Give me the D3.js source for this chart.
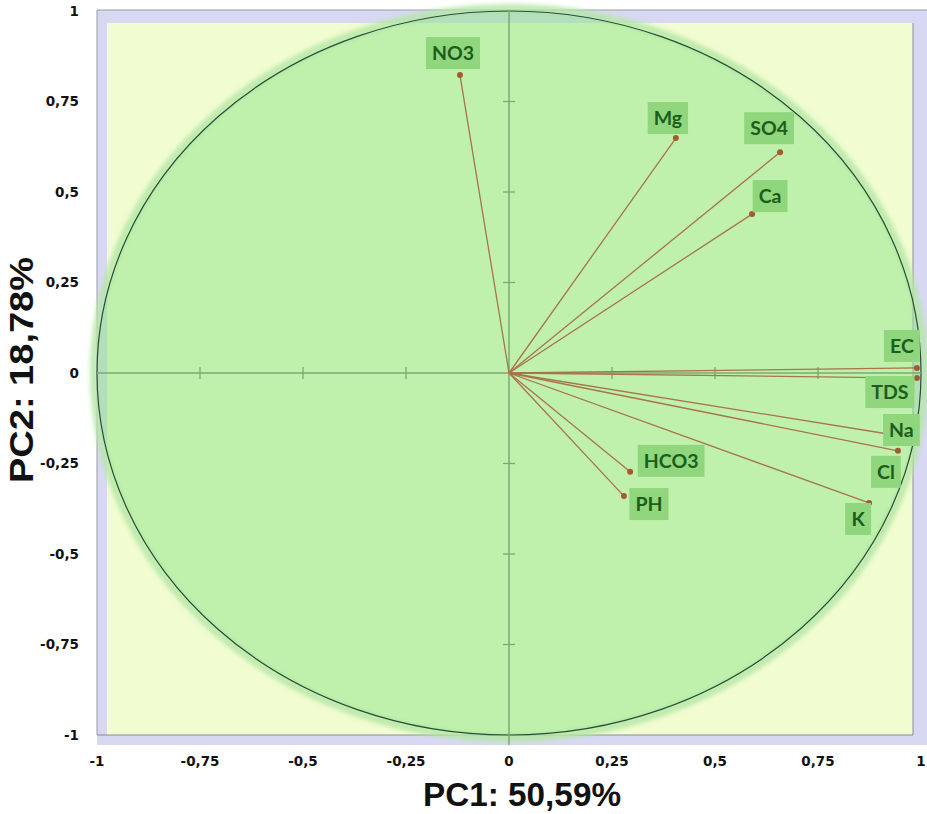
<!DOCTYPE html>
<html>
<head>
<meta charset="utf-8">
<script src="https://cdn.jsdelivr.net/npm/d3@7"></script>
<style>
  body { margin: 0; background: #fff; }
  svg { display: block; }
</style>
</head>
<body>
<div id="viz"></div>
<script>
// variables and their loadings on PC1 / PC2
var variables = ["NO3", "Mg", "SO4", "Ca", "EC", "TDS", "Na", "Cl", "K", "HCO3", "PH"];
var pc1 = [-0.119, 0.405, 0.658, 0.590, 0.990, 0.990, 0.950, 0.944, 0.874, 0.294, 0.279];
var pc2 = [0.823, 0.649, 0.610, 0.439, 0.014, -0.014, -0.174, -0.215, -0.359, -0.273, -0.340];

var tickValues = [-1, -0.75, -0.5, -0.25, 0, 0.25, 0.5, 0.75, 1];
var xTitle = "PC1: 50,59%";
var yTitle = "PC2: 18,78%";

// where each label box sits relative to its point (pixels)
var labelOffset = {
    NO3: [-7, -22], Mg: [-8, -20], SO4: [-11, -24], Ca: [18, -18],
    EC: [-15, -22], TDS: [-27, 14], Na: [1, -6], Cl: [-12, 21],
    K: [-11, 16], HCO3: [41, -11], PH: [25, 8]
};

var width = 927, height = 814;
var fmt = function (d) { return String(d).replace(".", ","); };

var svg = d3.select("#viz").append("svg")
    .attr("width", width)
    .attr("height", height);

var x = d3.scaleLinear().domain([-1, 1]).range([97, 921]);
var y = d3.scaleLinear().domain([-1, 1]).range([735, 11]);

// halo blur
svg.append("defs").append("filter")
    .attr("id", "blur")
    .attr("x", "-10%").attr("y", "-10%").attr("width", "120%").attr("height", "120%")
    .append("feGaussianBlur").attr("stdDeviation", 2);

/* plot frame */
svg.append("rect")
    .attr("x", x(-1)).attr("y", y(1) - 1)
    .attr("width", x(1) + 6 - x(-1)).attr("height", y(-1) + 10 - y(1) + 1)
    .attr("fill", "#d8d8f2");
svg.append("rect")
    .attr("x", x(-1) + 10).attr("y", y(1) + 12)
    .attr("width", x(1) - 8 - x(-1) - 10).attr("height", y(-1) - y(1) - 12)
    .attr("fill", "#f1fcd1");
svg.append("path")
    .attr("d", "M" + x(-1) + "," + y(-1) + "V" + (y(1) - 1) + "H" + (x(1) + 6))
    .attr("fill", "none").attr("stroke", "#9a9aa8").attr("stroke-width", 1);
svg.append("path")
    .attr("d", "M" + x(-1) + "," + y(-1) + "H" + (x(1) - 8) + "V" + (y(1) + 12))
    .attr("fill", "none").attr("stroke", "#8a8a98").attr("stroke-width", 1);

/* correlation circle */
var cx = x(0), cy = y(0), rx = x(1) - x(0), ry = y(-1) - y(0);
svg.append("ellipse")
    .attr("cx", cx).attr("cy", cy).attr("rx", rx + 3).attr("ry", ry + 3)
    .attr("fill", "none")
    .attr("stroke", "#b4e8a4").attr("stroke-width", 8).attr("stroke-opacity", 0.85)
    .attr("filter", "url(#blur)");
svg.append("ellipse")
    .attr("cx", cx).attr("cy", cy).attr("rx", rx).attr("ry", ry)
    .attr("fill", "rgb(146,230,140)").attr("fill-opacity", 0.52);
svg.append("ellipse")
    .attr("cx", cx).attr("cy", cy).attr("rx", rx).attr("ry", ry)
    .attr("fill", "none").attr("stroke", "#2d4a3a").attr("stroke-width", 1.2);

/* axes through the origin */
var axisColor = "#7ea870";
svg.append("line")
    .attr("x1", x(-1)).attr("x2", x(1)).attr("y1", y(0)).attr("y2", y(0))
    .attr("stroke", axisColor).attr("stroke-width", 1.5);
svg.append("line")
    .attr("x1", x(0)).attr("x2", x(0)).attr("y1", y(1) - 1).attr("y2", y(-1) + 10)
    .attr("stroke", axisColor).attr("stroke-width", 1.5);

var inner = tickValues.filter(function (d) { return d != 0 && Math.abs(d) != 1; });
svg.append("g").selectAll("line.xt").data(inner).enter().append("line")
    .attr("x1", function (d) { return x(d); }).attr("x2", function (d) { return x(d); })
    .attr("y1", y(0) - 6).attr("y2", y(0) + 6)
    .attr("stroke", axisColor).attr("stroke-width", 1.3);
svg.append("g").selectAll("line.yt").data(inner).enter().append("line")
    .attr("y1", function (d) { return y(d); }).attr("y2", function (d) { return y(d); })
    .attr("x1", x(0) - 6).attr("x2", x(0) + 6)
    .attr("stroke", axisColor).attr("stroke-width", 1.3);

/* tick labels */
svg.append("g").selectAll("text").data(tickValues).enter().append("text")
    .attr("x", 79).attr("y", function (d) { return y(d); })
    .attr("dy", "0.35em").attr("text-anchor", "end")
    .attr("font-family", "DejaVu Sans, Verdana, sans-serif")
    .attr("font-weight", "bold").attr("font-size", 13.5)
    .attr("fill", "#111")
    .text(fmt);
svg.append("g").selectAll("text").data(tickValues).enter().append("text")
    .attr("x", function (d) { return x(d); }).attr("y", 761)
    .attr("dy", "0.35em").attr("text-anchor", "middle")
    .attr("font-family", "DejaVu Sans, Verdana, sans-serif")
    .attr("font-weight", "bold").attr("font-size", 13.5)
    .attr("fill", "#111")
    .text(fmt);

/* axis titles */
svg.append("text")
    .attr("x", 522).attr("y", 806)
    .attr("text-anchor", "middle")
    .attr("font-family", "Liberation Sans, Arial, sans-serif")
    .attr("font-weight", "bold").attr("font-size", 33)
    .attr("textLength", 198).attr("lengthAdjust", "spacingAndGlyphs")
    .attr("fill", "#111")
    .text(xTitle);
svg.append("text")
    .attr("transform", "translate(33,370) rotate(-90)")
    .attr("text-anchor", "middle")
    .attr("font-family", "Liberation Sans, Arial, sans-serif")
    .attr("font-weight", "bold").attr("font-size", 33)
    .attr("textLength", 226).attr("lengthAdjust", "spacingAndGlyphs")
    .attr("fill", "#111")
    .text(yTitle);

/* loading vectors */
var pts = variables.map(function (v, i) { return { name: v, x: pc1[i], y: pc2[i] }; });

svg.append("g").selectAll("line").data(pts).enter().append("line")
    .attr("x1", x(0)).attr("y1", y(0))
    .attr("x2", function (d) { return x(d.x); })
    .attr("y2", function (d) { return y(d.y); })
    .attr("stroke", "#a87448").attr("stroke-width", 1.3);
svg.append("g").selectAll("circle").data(pts).enter().append("circle")
    .attr("cx", function (d) { return x(d.x); })
    .attr("cy", function (d) { return y(d.y); })
    .attr("r", 3)
    .attr("fill", "#a35a30");

/* labels */
var lab = svg.append("g").selectAll("g").data(pts).enter().append("g")
    .attr("transform", function (d) {
        var o = labelOffset[d.name];
        return "translate(" + (x(d.x) + o[0]) + "," + (y(d.y) + o[1]) + ")";
    });
lab.append("text")
    .attr("text-anchor", "middle").attr("dy", "0.36em")
    .attr("font-family", "Lato, Open Sans, sans-serif")
    .attr("font-weight", "bold").attr("font-size", 19.5)
    .attr("fill", "#1b5e1b")
    .text(function (d) { return d.name; });
lab.insert("rect", "text")
    .each(function () {
        var t = d3.select(this.parentNode).select("text").node().getBBox();
        d3.select(this)
            .attr("x", -t.width / 2 - 6).attr("y", -16)
            .attr("width", t.width + 12).attr("height", 32);
    })
    .attr("fill", "#8fd67c");
</script>
</body>
</html>
